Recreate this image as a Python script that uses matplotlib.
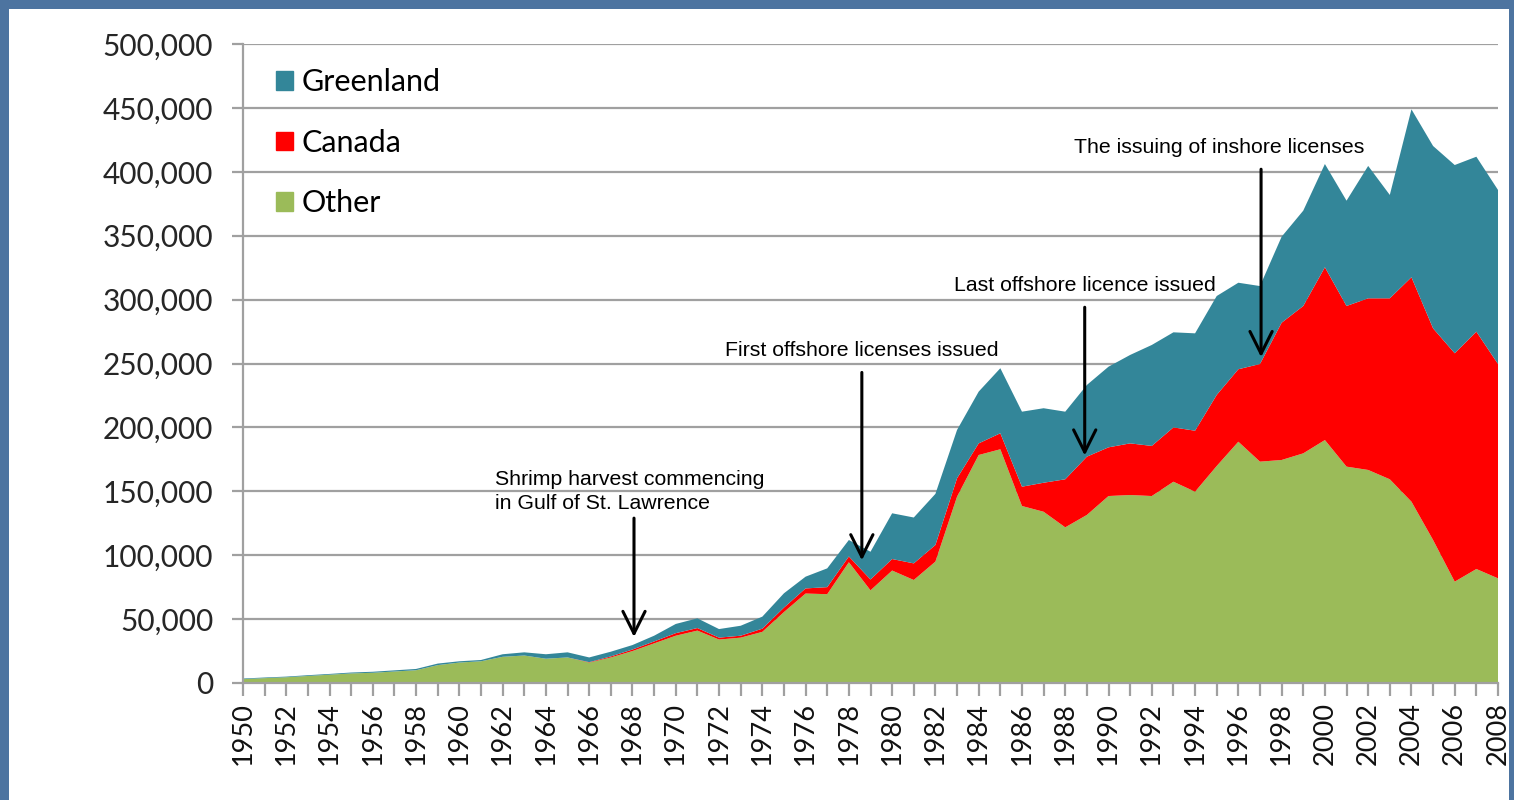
import numpy as np
import matplotlib
matplotlib.use('Agg')
import matplotlib.pyplot as plt
from matplotlib.patches import Patch, Rectangle

years = list(range(1950, 2009))

other = [3000, 3800, 4500, 5500, 6500, 7500, 8000, 9000, 10000, 14000,
         16000, 17000, 20500, 21500, 19000, 20000, 16000, 20000, 25000, 31000,
         37000, 41000, 34000, 35500, 40000, 55500, 70000, 69500, 94500, 72500,
         88000, 80600, 95000, 145800, 178400, 182900, 138500, 134000, 121800, 131500,
         146300, 147100, 146300, 157500, 149700, 169800, 188800, 173200, 174500, 179700,
         190100, 169300, 166700, 159400, 141900, 111900, 79300, 89200, 81900]

canada = [0, 0, 0, 0, 0, 0, 0, 0, 0, 0,
          0, 0, 0, 0, 0, 0, 300, 800, 1200, 1500,
          2000, 2000, 1500, 1500, 2500, 3500, 4000, 5500, 4500, 8500,
          9000, 13000, 13000, 14400, 9100, 12500, 15100, 22700, 37600, 45600,
          38100, 40400, 39200, 42500, 47700, 55600, 56700, 76400, 107400, 115300,
          135200, 125700, 134300, 141600, 175600, 165600, 178700, 185700, 167700]

greenland = [500, 500, 500, 600, 600, 700, 800, 900, 1000, 1200,
             1000, 1000, 2000, 2500, 3500, 4000, 3700, 3700, 3500, 4500,
             7200, 7600, 6700, 7800, 9400, 11200, 9200, 14700, 12900, 21700,
             35800, 35900, 40000, 37800, 40500, 50900, 58700, 58300, 52900, 56100,
             63100, 69200, 79000, 74400, 76200, 77400, 67700, 61000, 67300, 74600,
             80800, 82400, 103600, 80900, 131400, 142700, 147300, 136900, 136200]

# annotation texts with (year, arrow top, arrow tip)
notes = [
    ('Shrimp harvest commencing\nin Gulf of St. Lawrence', 1968.07, 129000, 36000),
    ('First offshore licenses issued', 1978.6, 243000, 96000),
    ('Last offshore licence issued', 1988.9, 294000, 178000),
    ('The issuing of inshore licenses', 1997.05, 402000, 255000),
]

c_green = '#338699'
c_canada = '#FF0000'
c_other = '#9BBB59'
grey = '#A0A0A0'

fig = plt.figure(figsize=(15.14, 8), dpi=100, facecolor='#4D74A0')
fig.add_artist(Rectangle((9 / 1514, 0), 1500 / 1514, 791 / 800,
                         transform=fig.transFigure, facecolor='white',
                         edgecolor='none', zorder=0))

ax = fig.add_axes([243 / 1514, 1 - 683 / 800, (1498 - 243) / 1514, (683 - 44) / 800])
ax.set_facecolor('none')

ax.stackplot(years, other, canada, greenland,
             colors=[c_other, c_canada, c_green], linewidth=0, zorder=2)

ax.set_xlim(1950, 2008)
ax.set_ylim(0, 500000)

ax.set_yticks(np.arange(0, 500001, 50000))
ax.set_yticklabels([f'{v:,}' for v in range(0, 500001, 50000)])
ax.set_xticks(range(1950, 2009, 2))
ax.set_xticks(range(1950, 2009), minor=True)
ax.set_xticklabels([str(y) for y in range(1950, 2009, 2)], rotation=90)

ax.yaxis.grid(True, color=grey, linewidth=1.6, zorder=1)
ax.set_axisbelow(True)
for s in ['top', 'right']:
    ax.spines[s].set_visible(False)
for s in ['left', 'bottom']:
    ax.spines[s].set_color(grey)
    ax.spines[s].set_linewidth(1.6)
    ax.spines[s].set_zorder(3)

ax.tick_params(axis='y', length=8, width=1.6, color=grey, labelsize=21.5,
               labelcolor='#262626', pad=13.5)
ax.tick_params(axis='x', which='both', length=9, width=1.6, color=grey,
               labelsize=19.5, labelcolor='#111111', pad=5)
for lbl in ax.get_xticklabels() + ax.get_yticklabels():
    lbl.set_family('Lato')

handles = [Patch(color=c_green), Patch(color=c_canada), Patch(color=c_other)]
leg = ax.legend(handles, ['Greenland', 'Canada', 'Other'], loc='upper left',
                bbox_to_anchor=(0.0165, 0.981), frameon=False,
                prop={'family': 'Lato', 'size': 22}, handlelength=0.55,
                handleheight=0.55, handletextpad=0.3, labelspacing=1.06,
                borderaxespad=0)

for text, yr, top, tip in notes:
    ax.annotate('', xy=(yr, tip), xytext=(yr, top),
                arrowprops=dict(arrowstyle='->', color='black', lw=2.2,
                                mutation_scale=40, shrinkA=0, shrinkB=0),
                zorder=5)

fs = 15.3
ax.text(1961.64, 149900, notes[0][0], fontsize=fs, family='Liberation Sans',
        ha='left', va='center', linespacing=1.32, zorder=5)
ax.text(1978.58, 260000, notes[1][0], fontsize=fs, family='Liberation Sans',
        ha='center', va='center', zorder=5)
ax.text(1988.89, 311000, notes[2][0], fontsize=fs, family='Liberation Sans',
        ha='center', va='center', zorder=5)
ax.text(1995.1, 419000, notes[3][0], fontsize=fs, family='Liberation Sans',
        ha='center', va='center', zorder=5)

fig.savefig('out.png', dpi=100, facecolor=fig.get_facecolor())
